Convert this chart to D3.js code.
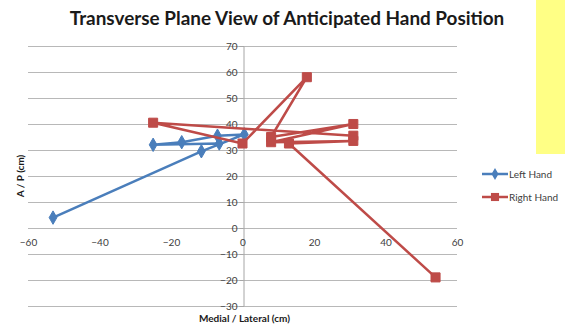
<!DOCTYPE html>
<html>
<head>
<meta charset="utf-8">
<script src="https://cdn.jsdelivr.net/npm/d3@7"></script>
<style>
  html, body { margin: 0; padding: 0; background: #fff; }
  svg { display: block; font-family: Lato, "Open Sans", sans-serif; }
</style>
</head>
<body>
<svg id="chart" width="565" height="326"></svg>
<script>
// Medial/lateral (x) and anterior/posterior (y) positions, cm
const leftX  = [-53, -11.5, 0.5, -7, -17, -25, -6.5];
const leftY  = [4, 29.5, 36, 35.5, 33, 32, 32.5];
const rightX = [31, -25, 0, 18, 8, 31, 8, 31, 13, 54];
const rightY = [35.5, 40.5, 32.5, 58, 35, 40, 33, 33.5, 32.5, -19];

const xTicks = [-60, -40, -20, 0, 20, 40, 60];
const yTicks = [-30, -20, -10, 0, 10, 20, 30, 40, 50, 60, 70];

const seriesNames = ["Left Hand", "Right Hand"];
const colors = ["#4A7EBB", "#BE4B48"];

const svg = d3.select("#chart");
const x = d3.scaleLinear().domain([-60, 60]).range([28, 457]);
const y = d3.scaleLinear().domain([-30, 70]).range([306, 46]);

// side note panel
svg.append("rect").attr("x", 536).attr("y", 0).attr("width", 29).attr("height", 154)
  .attr("fill", "#FFFF85");

// horizontal gridlines
svg.append("g").selectAll("line").data(yTicks).join("line")
  .attr("x1", x.range()[0]).attr("x2", x.range()[1])
  .attr("y1", d => y(d) + 0.5).attr("y2", d => y(d) + 0.5)
  .attr("stroke", "#B8B8B8").attr("stroke-width", 1);

// vertical axis through x = 0
const yAxis = d3.axisLeft(y).tickValues(yTicks).tickSize(4).tickPadding(2);
const gy = svg.append("g").attr("transform", `translate(${Math.round(x(0)) + 0.5},0)`).call(yAxis);
gy.select(".domain").attr("stroke", "#A6A6A6");
gy.selectAll(".tick line").attr("stroke", "#A6A6A6");
gy.selectAll(".tick text").attr("fill", "#404040").style("font-size", "10px")
  .style("font-family", "Lato, 'Open Sans', sans-serif");

// horizontal axis labels along y = 0
const xAxis = d3.axisBottom(x).tickValues(xTicks).tickSize(0).tickPadding(11);
const gx = svg.append("g").attr("transform", `translate(0,${y(0)})`).call(xAxis);
gx.select(".domain").remove();
gx.selectAll(".tick text").attr("fill", "#404040").style("font-size", "10px")
  .style("font-family", "Lato, 'Open Sans', sans-serif");

// series
const series = [
  { name: seriesNames[0], xs: leftX, ys: leftY, color: colors[0], shape: d3.symbolDiamond, size: 52 },
  { name: seriesNames[1], xs: rightX, ys: rightY, color: colors[1], shape: d3.symbolSquare, size: 82 }
];
const line = d3.line().x(d => x(d[0])).y(d => y(d[1]));

series.forEach(s => {
  const pts = s.xs.map((v, i) => [v, s.ys[i]]);
  const g = svg.append("g");
  g.append("path").datum(pts).attr("d", line)
    .attr("fill", "none").attr("stroke", s.color).attr("stroke-width", 2.5)
    .attr("stroke-linejoin", "round");
  g.selectAll("path.mk").data(pts).join("path").attr("class", "mk")
    .attr("transform", d => `translate(${x(d[0])},${y(d[1])})`)
    .attr("d", d3.symbol().type(s.shape).size(s.size))
    .attr("fill", s.color).attr("stroke", s.color).attr("stroke-width", 1);
});

// legend
const legend = svg.append("g");
series.forEach((s, i) => {
  const ly = 174 + i * 23;
  legend.append("line").attr("x1", 482).attr("x2", 508).attr("y1", ly).attr("y2", ly)
    .attr("stroke", s.color).attr("stroke-width", 2.5);
  legend.append("path").attr("transform", `translate(495,${ly})`)
    .attr("d", d3.symbol().type(s.shape).size(s.size * 0.8)).attr("fill", s.color);
  legend.append("text").attr("x", 509).attr("y", ly + 3.5).text(s.name)
    .attr("fill", "#404040").style("font-size", "10px");
});

// title, sized to its span
const title = svg.append("text").attr("x", 287).attr("y", 25).attr("text-anchor", "middle")
  .style("font-weight", "bold").style("font-size", "16px").attr("fill", "#1a1a1a")
  .text("Transverse Plane View of Anticipated Hand Position");
const tw = title.node().getComputedTextLength();
title.style("font-size", (16 * 435 / tw).toFixed(2) + "px");

// axis titles
svg.append("text").attr("x", x(0) + 2).attr("y", 322).attr("text-anchor", "middle")
  .style("font-weight", "bold").style("font-size", "10px").attr("fill", "#1a1a1a")
  .text("Medial / Lateral (cm)");
svg.append("text").attr("transform", `translate(24,${(y(70) + y(-30)) / 2}) rotate(-90)`)
  .attr("text-anchor", "middle")
  .style("font-weight", "bold").style("font-size", "10px").attr("fill", "#1a1a1a")
  .text("A / P (cm)");
</script>
</body>
</html>
